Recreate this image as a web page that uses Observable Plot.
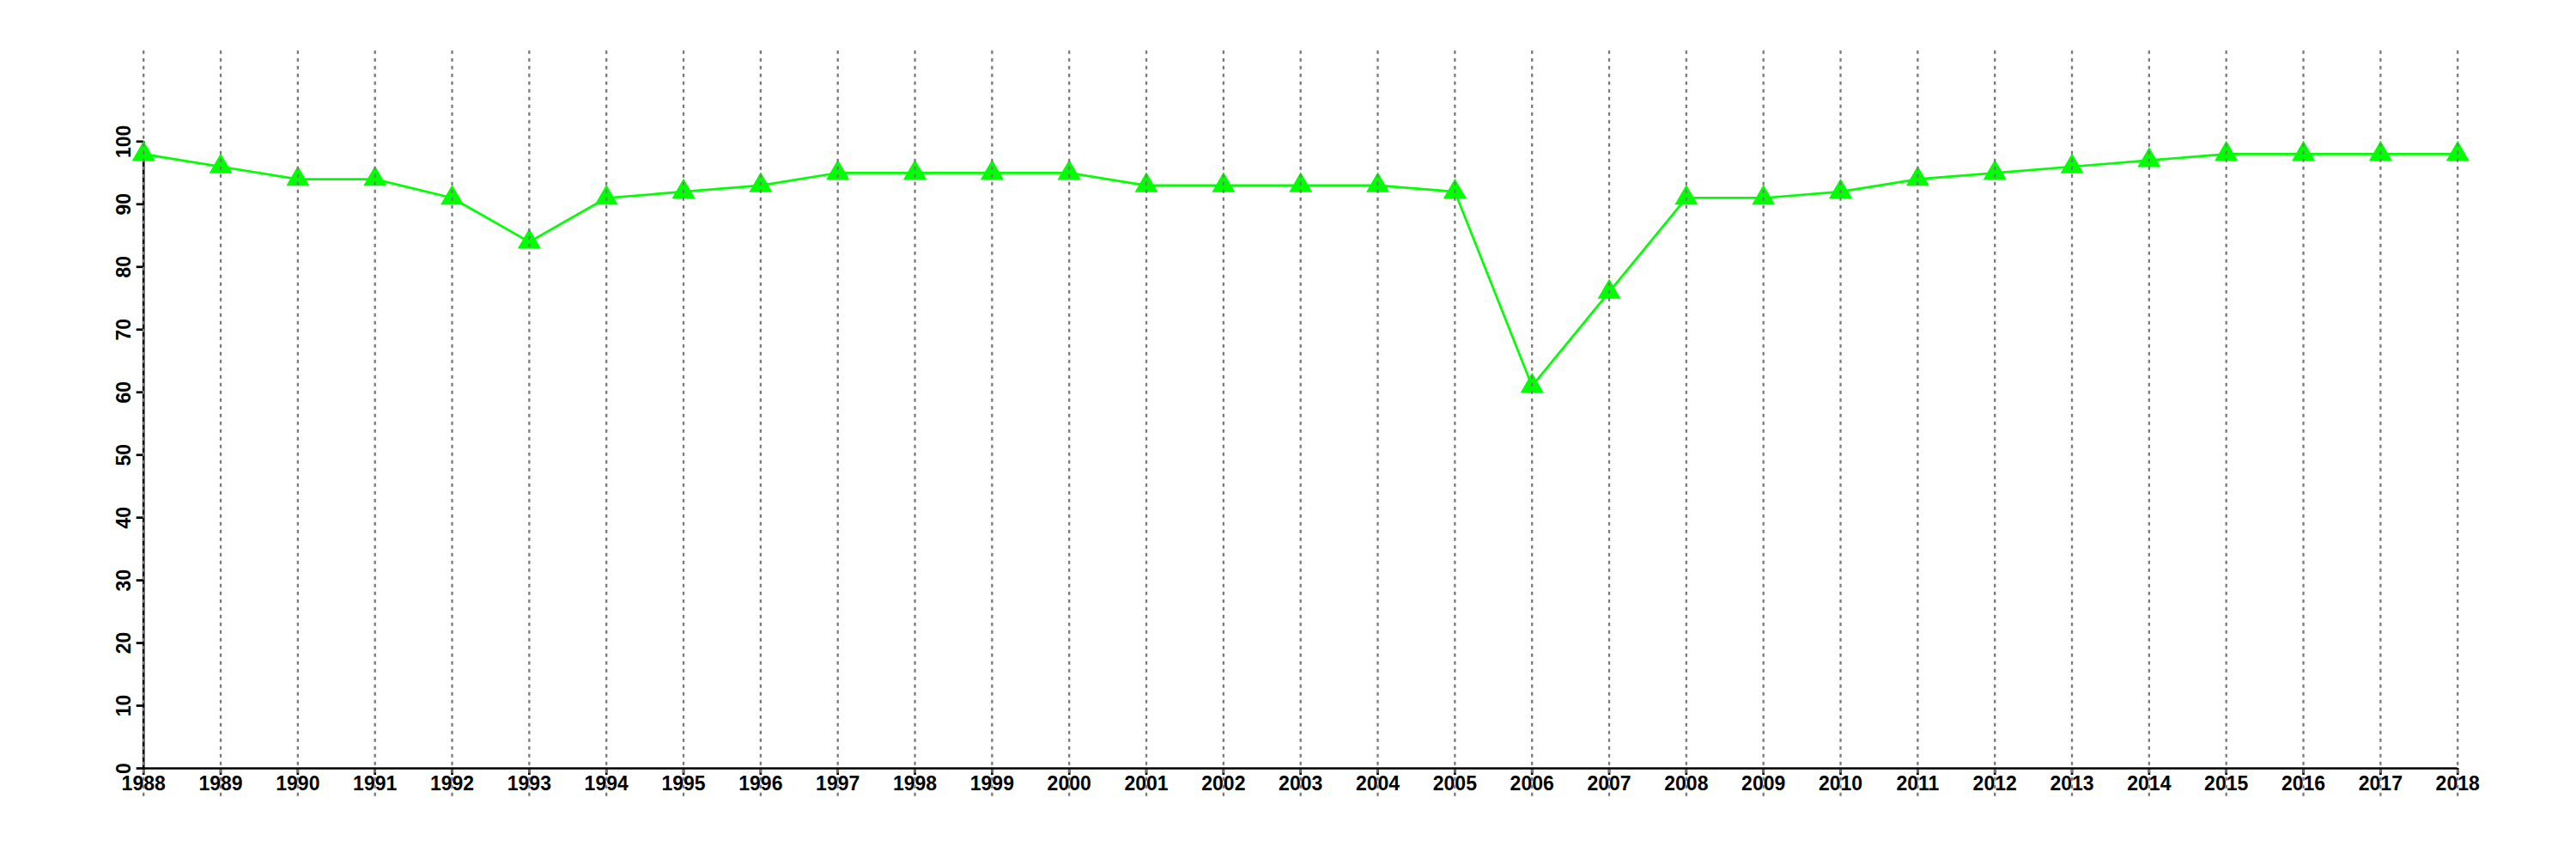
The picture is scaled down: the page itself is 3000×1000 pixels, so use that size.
<!DOCTYPE html>
<html>
<head>
<meta charset="utf-8">
<script src="https://cdn.jsdelivr.net/npm/d3@7"></script>
<script src="https://cdn.jsdelivr.net/npm/@observablehq/plot@0.6"></script>
<style>
  html, body { margin: 0; padding: 0; background: #ffffff; }
  #chart svg { display: block; }
</style>
</head>
<body>
<div id="chart"></div>
<script>
const years = [1988, 1989, 1990, 1991, 1992, 1993, 1994, 1995, 1996, 1997, 1998, 1999, 2000, 2001, 2002, 2003, 2004, 2005, 2006, 2007, 2008, 2009, 2010, 2011, 2012, 2013, 2014, 2015, 2016, 2017, 2018];
const values = [98, 96, 94, 94, 91, 84, 91, 92, 93, 95, 95, 95, 95, 93, 93, 93, 93, 92, 61, 76, 91, 91, 92, 94, 95, 96, 97, 98, 98, 98, 98];
const yTicks = [0, 10, 20, 30, 40, 50, 60, 70, 80, 90, 100];

const data = years.map((year, i) => ({year, value: values[i]}));
const font = "'Liberation Sans', Arial, Helvetica, sans-serif";

const xRange = [166.7, 2861.7];
const yRange = [894, 164.3];
// tick length of 8px expressed in data units
const xTickLen = 8 * (2018 - 1988) / (xRange[1] - xRange[0]);
const yTickLen = 8 * 100 / (yRange[0] - yRange[1]);

const chart = Plot.plot({
  width: 3000,
  height: 1000,
  style: {background: "#ffffff", fontFamily: font},
  x: {domain: [1988, 2018], range: xRange, axis: null, label: null},
  y: {domain: [0, 100], range: yRange, axis: null, label: null},
  marks: [
    // axis lines
    Plot.ruleY([0], {x1: 1988, x2: 2018, stroke: "#000000", strokeWidth: 2.7}),
    Plot.ruleX([1988], {y1: 0, y2: 100, stroke: "#000000", strokeWidth: 2.7}),
    // ticks
    Plot.ruleY(yTicks, {x1: 1988 - xTickLen, x2: 1988, stroke: "#000000", strokeWidth: 2.7}),
    Plot.ruleX(years, {y1: -yTickLen, y2: 0, stroke: "#000000", strokeWidth: 2.7}),
    // y tick labels (rotated)
    Plot.text(yTicks, {x: () => 1988, y: d => d, text: d => String(d), rotate: -90, textAnchor: "middle", lineAnchor: "bottom", dx: -15, fontSize: 23, fontWeight: "bold", fill: "#000000"}),
    // x tick labels
    Plot.text(years, {x: d => d, y: () => 0, text: d => String(d), textAnchor: "middle", lineAnchor: "top", dy: 9, fontSize: 23, fontWeight: "bold", fill: "#000000"}),
    // series
    Plot.line(data, {x: "year", y: "value", stroke: "#00ff00", strokeWidth: 2.7}),
    Plot.dot(data, {x: "year", y: "value", symbol: "triangle", r: 10, fill: "#00ff00", stroke: "none"}),
    // dotted vertical grid lines on top
    Plot.ruleX(years, {y1: -4.5, y2: 114.6, stroke: "#7a7a7a", strokeWidth: 2.3, strokeDasharray: "4,5"})
  ]
});
document.getElementById("chart").appendChild(chart);
</script>
</body>
</html>
